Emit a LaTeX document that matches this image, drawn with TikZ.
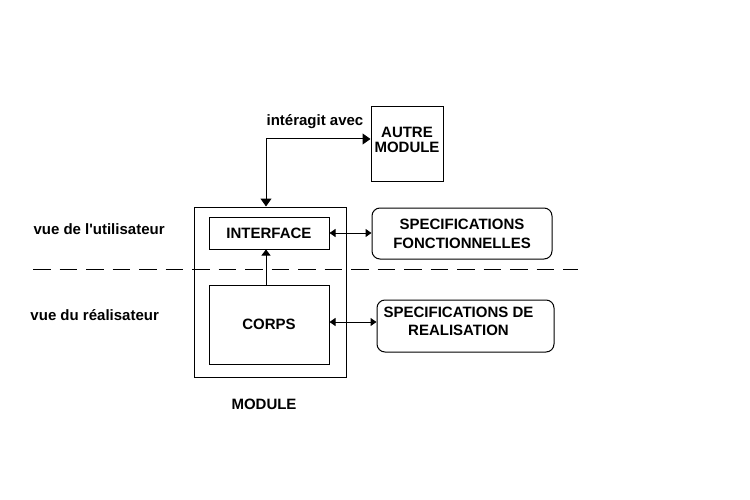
\documentclass[tikz,border=0pt]{standalone}
\usepackage{fontspec}
\setmainfont{Liberation Sans}
\usetikzlibrary{arrows.meta}
\newcommand{\police}[1]{\fontsize{15}{#1}\selectfont\bfseries}

\begin{document}
\begin{tikzpicture}[x=1pt,y=-1pt,line width=1pt,font=\police{19},
		>={Triangle[length=8pt,width=11pt]},
		petite/.style={>={Triangle[length=6pt,width=8pt]}}]
		\useasboundingbox (0,0) rectangle (750,500);
		%Boites
		\node [draw, inner sep=0, minimum width=152pt, minimum height=170pt] (module) at (270,292) {};
		\node [draw, inner sep=0, minimum width=120pt, minimum height=32pt] (interface) at (269,233) {INTERFACE};
		\node [draw, inner sep=0, minimum width=120pt, minimum height=79pt] (corps) at (269,324.5) {CORPS};
		\node [draw, inner sep=0, minimum width=72pt, minimum height=75pt] (autre) at (407,144.5) {};
		\node [align=center, inner sep=0, font=\police{15.5}] (autretxt) at (407,140) {AUTRE\\MODULE};
		\node [draw, rounded corners=8pt, inner sep=0, minimum width=180pt, minimum height=51pt, align=center] (specf) at (462,233.5) {SPECIFICATIONS\\FONCTIONNELLES};
		\node [draw, rounded corners=8pt, inner sep=0, minimum width=177pt, minimum height=52pt] (specr) at (465.5,326) {};
		\node [align=center, inner sep=0, font=\police{18}] (specrtxt) at (458.5,321) {SPECIFICATIONS DE\\REALISATION};
		%Separation
		\draw [dash pattern=on 17.5pt off 9pt] (33,269) -- (578,269);
		%Textes
		\node [anchor=west, inner sep=0] (utilisateur) at (33,229) {vue de l\textquotesingle utilisateur};
		\node [anchor=west, inner sep=0] (realisateur) at (30,315) {vue du réalisateur};
		\node [inner sep=0] (avec) at (315,122) {intéragit avec};
		\node [inner sep=0] (nom) at (264,404) {MODULE};
		%Fleches
		\draw [<->] ([xshift=-4pt]module.north) |- ([yshift=5.5pt]autre.west);
		\draw [->, >={Triangle[length=6pt,width=9pt]}] ([xshift=-3pt]corps.north) -- ([xshift=-3pt]interface.south);
		\draw [<->, petite] (interface.east) -- (interface.east -| specf.west);
		\draw [<->, petite] ([yshift=2.5pt]corps.east) -- ([yshift=2.5pt]corps.east -| specr.west);
	\end{tikzpicture}
\end{document}
